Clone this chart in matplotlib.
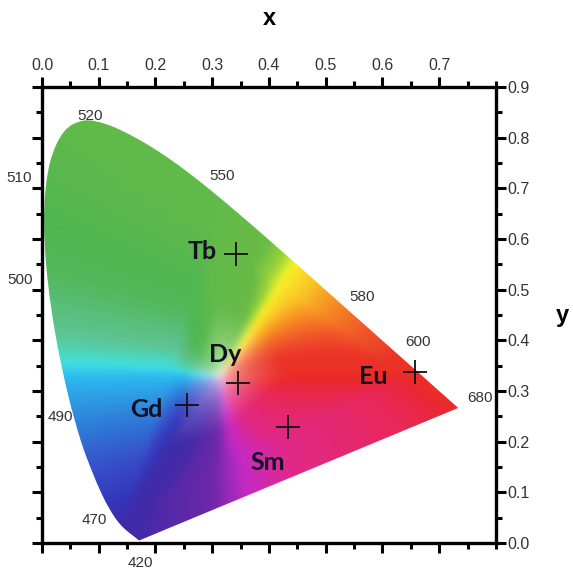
#!/usr/bin/env python3
"""CIE 1931 chromaticity diagram with Ln emission points."""

import numpy as np
import matplotlib
matplotlib.use("Agg")
import matplotlib.pyplot as plt
from matplotlib.path import Path
from matplotlib.patches import PathPatch
from matplotlib.colors import rgb_to_hsv, hsv_to_rgb
from matplotlib.ticker import MultipleLocator

plt.rcParams['font.family'] = ['Liberation Sans', 'DejaVu Sans']

# CIE 1931 2-degree spectral locus (x, y), 420-680 nm
LOCUS_NM = [420, 425, 430, 435, 440, 445, 450, 455, 460, 465, 470, 475, 480,
            485, 490, 495, 500, 505, 510, 515, 520, 525, 530, 535, 540, 545,
            550, 555, 560, 565, 570, 575, 580, 585, 590, 595, 600, 605, 610,
            615, 620, 625, 630, 635, 640, 645, 650, 655, 660, 665, 670, 675, 680]
LOCUS_X = [0.1714, 0.1703, 0.1689, 0.1669, 0.1644, 0.1611, 0.1566, 0.1510,
           0.1440, 0.1355, 0.1241, 0.1096, 0.0913, 0.0687, 0.0454, 0.0235,
           0.0082, 0.0039, 0.0139, 0.0389, 0.0743, 0.1142, 0.1547, 0.1929,
           0.2296, 0.2658, 0.3016, 0.3373, 0.3731, 0.4087, 0.4441, 0.4788,
           0.5125, 0.5448, 0.5752, 0.6029, 0.6270, 0.6482, 0.6658, 0.6801,
           0.6915, 0.7006, 0.7079, 0.7140, 0.7190, 0.7230, 0.7260, 0.7283,
           0.7300, 0.7311, 0.7320, 0.7327, 0.7334]
LOCUS_Y = [0.0051, 0.0058, 0.0069, 0.0086, 0.0109, 0.0138, 0.0177, 0.0227,
           0.0297, 0.0399, 0.0578, 0.0868, 0.1327, 0.2007, 0.2950, 0.4127,
           0.5384, 0.6548, 0.7502, 0.8120, 0.8338, 0.8262, 0.8059, 0.7816,
           0.7543, 0.7243, 0.6923, 0.6589, 0.6245, 0.5896, 0.5547, 0.5202,
           0.4866, 0.4544, 0.4242, 0.3965, 0.3725, 0.3514, 0.3340, 0.3197,
           0.3083, 0.2993, 0.2920, 0.2859, 0.2809, 0.2770, 0.2740, 0.2717,
           0.2700, 0.2689, 0.2680, 0.2673, 0.2666]

# wavelength labels drawn around the locus
WL_TEXT = ['520', '510', '550', '500', '580', '600', '490', '680', '470', '420']
WL_X = [0.085, -0.040, 0.317, -0.038, 0.564, 0.663, 0.032, 0.772, 0.093, 0.173]
WL_Y = [0.843, 0.720, 0.724, 0.519, 0.486, 0.397, 0.249, 0.286, 0.045, -0.040]

# lanthanide emission coordinates
IONS = ['Tb', 'Dy', 'Eu', 'Gd', 'Sm']
ION_X = [0.342, 0.345, 0.657, 0.256, 0.433]
ION_Y = [0.570, 0.316, 0.337, 0.272, 0.229]
LABEL_X = [0.283, 0.322, 0.583, 0.183, 0.398]
LABEL_Y = [0.576, 0.372, 0.328, 0.263, 0.158]

# colour look: sRGB hue (deg) -> shown hue, saturation, value
HUE_IN = [0, 17, 29, 42, 51, 60, 66, 76, 120, 137, 158, 170, 180, 195,
          208, 230, 240, 266, 295, 318, 340, 360]
HUE_OUT = [2, 4, 14, 32, 46, 56, 80, 102, 108, 112, 125, 152, 196, 214,
           232, 244, 248, 252, 272, 328, 344, 362]
SAT_OUT = [.83, .83, .83, .86, .85, .84, .75, .62, .60, .58, .55, .52, .82,
           .78, .72, .72, .74, .75, .76, .82, .83, .83]
VAL_OUT = [.92, .92, .94, .97, .98, .98, .84, .73, .73, .72, .72, .77, .94,
           .84, .78, .70, .67, .66, .66, .88, .91, .92]


def blur(a, sigma):
    k = np.arange(-3 * int(sigma + 1), 3 * int(sigma + 1) + 1)
    k = np.exp(-0.5 * (k / sigma) ** 2)
    k /= k.sum()
    pad = len(k) // 2
    for axis in (0, 1):
        a = np.pad(a, [(pad, pad) if i == axis else (0, 0) for i in range(3)],
                   mode='edge')
        a = np.apply_along_axis(lambda m: np.convolve(m, k, mode='valid'), axis, a)
    return a


def chroma_image(n=500):
    xs = np.linspace(0, 0.8, n)
    ys = np.linspace(0, 0.9, n)
    X, Y = np.meshgrid(xs, ys)
    Y = np.clip(Y, 1e-3, None)
    Xc = X / Y
    Zc = (1 - X - Y) / Y
    Yc = np.ones_like(X)
    r = 3.2406 * Xc - 1.5372 * Yc - 0.4986 * Zc
    g = -0.9689 * Xc + 1.8758 * Yc + 0.0415 * Zc
    b = 0.0557 * Xc - 0.2040 * Yc + 1.0570 * Zc
    rgb = np.clip(np.dstack([r, g, b]), 0, None)
    rgb = rgb / np.maximum(rgb.max(axis=2, keepdims=True), 1e-6)
    rgb = np.where(rgb <= 0.0031308, 12.92 * rgb, 1.055 * rgb ** (1 / 2.4) - 0.055)
    hsv = rgb_to_hsv(np.clip(rgb, 0, 1))
    h = hsv[..., 0] * 360
    s = np.clip(hsv[..., 1] / 0.45, 0, 1) ** 0.5
    h2 = np.interp(h, HUE_IN, HUE_OUT) % 360
    s2 = s * np.interp(h, HUE_IN, SAT_OUT)
    v2 = 1 - s * (1 - np.interp(h, HUE_IN, VAL_OUT))
    out = hsv_to_rgb(np.dstack([h2 / 360, s2, v2]))
    return np.clip(blur(out, 3.5), 0, 1)


def locus_path():
    # smooth curve through the locus points, closed by the purple line
    p = np.column_stack([LOCUS_X, LOCUS_Y])
    verts = [p[0]]
    codes = [Path.MOVETO]
    n = len(p)
    for i in range(n - 1):
        p0 = p[max(i - 1, 0)]
        p3 = p[min(i + 2, n - 1)]
        c1 = p[i] + (p[i + 1] - p0) / 6
        c2 = p[i + 1] - (p3 - p[i]) / 6
        verts += [c1, c2, p[i + 1]]
        codes += [Path.CURVE4] * 3
    verts += [p[0], p[0]]
    codes += [Path.LINETO, Path.CLOSEPOLY]
    return Path(verts, codes)


fig = plt.figure(figsize=(5.73, 5.71), dpi=100)
ax = fig.add_axes([0.0733, 0.049, 0.7923, 0.7986])

img = ax.imshow(chroma_image(), origin='lower', extent=[0, 0.8, 0, 0.9],
                aspect='auto', interpolation='bilinear', zorder=1)
locus = PathPatch(locus_path(), facecolor='none', edgecolor='none',
                  transform=ax.transData)
ax.add_patch(locus)
img.set_clip_path(locus)

for t, x, y in zip(WL_TEXT, WL_X, WL_Y):
    ax.text(x, y, t, fontsize=11, color='#333333', ha='center', va='center',
            clip_on=False, zorder=5)

ax.plot(ION_X, ION_Y, linestyle='none', marker='+', markersize=17,
        markeredgewidth=1.3, color='#111111', zorder=6)
for t, x, y in zip(IONS, LABEL_X, LABEL_Y):
    ax.text(x, y, t, fontsize=18, fontweight='bold', color='#111122',
            family=['Lato', 'DejaVu Sans'], ha='center', va='center', zorder=6)

ax.set_xlim(0, 0.8)
ax.set_ylim(0, 0.9)
ax.set_xticks(np.arange(0, 0.71, 0.1))
ax.xaxis.set_minor_locator(MultipleLocator(0.05))
ax.set_yticks(np.arange(0, 0.91, 0.1))
ax.yaxis.set_minor_locator(MultipleLocator(0.05))
ax.xaxis.set_major_formatter(plt.FormatStrFormatter('%.1f'))
ax.yaxis.set_major_formatter(plt.FormatStrFormatter('%.1f'))
ax.tick_params(which='both', direction='out', width=2.2, colors='black',
               top=True, bottom=True, left=True, right=True,
               labeltop=True, labelbottom=False, labelleft=False, labelright=True,
               labelsize=11.5, labelcolor='#333333')
ax.tick_params(which='major', length=7, pad=3)
ax.tick_params(which='minor', length=4)
ax.tick_params(axis='y', which='major', pad=1)
for sp in ax.spines.values():
    sp.set_linewidth(2.4)

ax.xaxis.set_label_position('top')
ax.set_xlabel('x', fontsize=17, fontweight='bold', labelpad=24)
ax.yaxis.set_label_position('right')
ax.set_ylabel('y', fontsize=17, fontweight='bold', rotation=0,
              labelpad=24, va='center')

fig.savefig('out.png', dpi=100)
